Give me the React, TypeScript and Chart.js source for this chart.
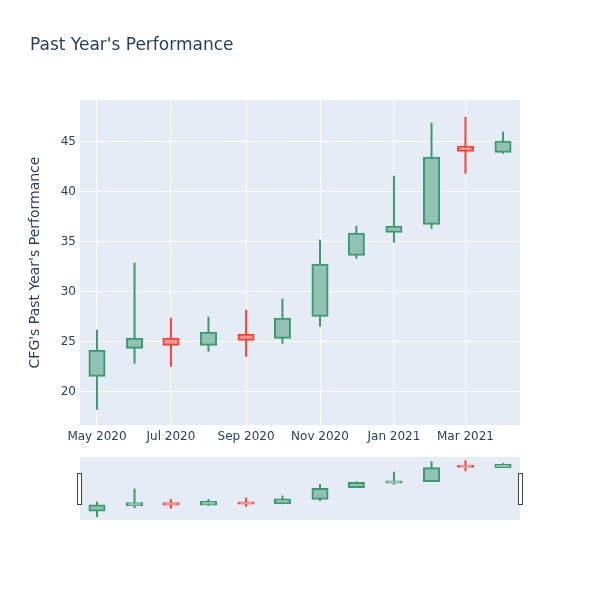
import React, { useEffect, useRef } from "react";
import { Chart, registerables } from "chart.js";
Chart.register(...registerables);

const dates = [
  "2020-05-01", "2020-06-01", "2020-07-01", "2020-08-01", "2020-09-01", "2020-10-01",
  "2020-11-01", "2020-12-01", "2021-01-01", "2021-02-01", "2021-03-01", "2021-04-01",
];
const opens = [21.6, 24.4, 25.3, 24.7, 25.7, 25.4, 27.6, 33.7, 36.0, 36.8, 44.5, 44.0];
const closes = [24.1, 25.3, 24.7, 25.9, 25.2, 27.3, 32.7, 35.8, 36.5, 43.4, 44.1, 45.0];
const highs = [26.2, 32.9, 27.4, 27.5, 28.2, 29.3, 35.2, 36.6, 41.6, 46.9, 47.5, 46.0];
const lows = [18.2, 22.8, 22.5, 24.0, 23.5, 24.8, 26.5, 33.3, 34.9, 36.3, 41.8, 43.8];

const tickDates = ["2020-05-01", "2020-07-01", "2020-09-01", "2020-11-01", "2021-01-01", "2021-03-01"];
const tickLabels = ["May 2020", "Jul 2020", "Sep 2020", "Nov 2020", "Jan 2021", "Mar 2021"];
const yTicks = [20, 25, 30, 35, 40, 45];
const yMin = 16.67;
const yMax = 49.17;
const xRangeStart = "2020-04-17";
const xRangeEnd = "2021-04-15";

const TEXT = "#2a3f5f";
const FONT = "'DejaVu Sans', 'Open Sans', sans-serif";
const INC = "#3D9970";
const DEC = "#FF4136";
const INC_FILL = "rgb(145,194,179)";
const DEC_FILL = "rgb(242,150,150)";

const day = (s: string) => Date.parse(s + "T00:00:00Z") / 86400000;

const bgPlugin = {
  id: "bg",
  beforeDraw(chart: any) {
    const { ctx, chartArea } = chart;
    ctx.save();
    ctx.fillStyle = "#E5ECF6";
    ctx.fillRect(chartArea.left, chartArea.top, chartArea.right - chartArea.left, chartArea.bottom - chartArea.top);
    ctx.restore();
  },
};

function buildDatasets(bodyW: number, wickW: number) {
  const inc = opens.map((o, i) => closes[i] >= o);
  return [
    {
      type: "bar" as const,
      data: dates.map((d, i) => ({ x: day(d), y: [opens[i], closes[i]] })),
      backgroundColor: inc.map((v) => (v ? INC_FILL : DEC_FILL)),
      borderColor: inc.map((v) => (v ? INC : DEC)),
      borderWidth: 2,
      borderSkipped: false,
      inflateAmount: 1,
      barThickness: bodyW,
      grouped: false,
      order: 0,
    },
    {
      type: "bar" as const,
      data: dates.map((d, i) => ({ x: day(d), y: [lows[i], highs[i]] })),
      backgroundColor: inc.map((v) => (v ? INC : DEC)),
      borderWidth: 0,
      inflateAmount: 0,
      barThickness: wickW,
      grouped: false,
      order: 1,
    },
  ];
}

export default function App() {
  const mainRef = useRef<HTMLCanvasElement>(null);
  const miniRef = useRef<HTMLCanvasElement>(null);

  useEffect(() => {
    const main = new Chart(mainRef.current!, {
      type: "bar",
      data: { datasets: buildDatasets(15, 2) as any },
      options: {
        animation: false,
        responsive: false,
        devicePixelRatio: 1,
        layout: { padding: { top: 100, right: 80, left: 0, bottom: 0 } },
        plugins: { legend: { display: false }, tooltip: { enabled: false }, title: { display: false } },
        scales: {
          x: {
            type: "linear",
            min: day(xRangeStart),
            max: day(xRangeEnd),
            offset: false,
            border: { display: false },
            grid: { color: "#ffffff", lineWidth: 1, drawTicks: false, offset: false },
            afterBuildTicks: (s: any) => {
              s.ticks = tickDates.map((d) => ({ value: day(d) }));
            },
            afterFit: (s: any) => {
              s.height = 175;
            },
            ticks: {
              color: TEXT,
              font: { family: FONT, size: 12 },
              padding: 5,
              maxRotation: 0,
              autoSkip: false,
              callback: (_v: any, i: number) => tickLabels[i],
            },
          },
          y: {
            type: "linear",
            min: yMin,
            max: yMax,
            border: { display: false },
            grid: { color: "#ffffff", lineWidth: 1, drawTicks: false },
            afterBuildTicks: (s: any) => {
              s.ticks = yTicks.map((v) => ({ value: v }));
            },
            afterFit: (s: any) => {
              s.width = 80;
            },
            ticks: {
              color: TEXT,
              font: { family: FONT, size: 12 },
              padding: 4,
              callback: (v: any) => String(v),
            },
            title: {
              display: true,
              text: "CFG's Past Year's Performance",
              color: TEXT,
              font: { family: FONT, size: 14, weight: "normal" },
              padding: { top: 27, bottom: 0 },
            },
          },
        },
      },
      plugins: [bgPlugin],
    });

    const mini = new Chart(miniRef.current!, {
      type: "bar",
      data: { datasets: buildDatasets(15, 2) as any },
      options: {
        animation: false,
        responsive: false,
        devicePixelRatio: 1,
        layout: { padding: 0 },
        plugins: { legend: { display: false }, tooltip: { enabled: false } },
        scales: {
          x: { type: "linear", display: false, min: day(xRangeStart), max: day(xRangeEnd), offset: false },
          y: { type: "linear", display: false, min: yMin, max: yMax },
        },
      },
      plugins: [bgPlugin],
    });

    return () => {
      main.destroy();
      mini.destroy();
    };
  }, []);

  const handle: React.CSSProperties = {
    position: "absolute",
    top: 473,
    width: 5,
    height: 32,
    boxSizing: "border-box",
    background: "#ffffff",
    border: "1px solid #444444",
  };

  return (
    <div style={{ position: "absolute", left: 0, top: 0, width: 600, height: 600, background: "#ffffff" }}>
      <canvas ref={mainRef} width={600} height={600} style={{ position: "absolute", left: 0, top: 0 }} />
      <div
        style={{
          position: "absolute",
          left: 30,
          top: 33,
          fontFamily: FONT,
          fontSize: 17,
          color: TEXT,
          lineHeight: "22px",
          whiteSpace: "nowrap",
        }}
      >
        Past Year's Performance
      </div>
      <canvas ref={miniRef} width={440} height={63} style={{ position: "absolute", left: 80, top: 457 }} />
      <div style={{ ...handle, left: 77 }} />
      <div style={{ ...handle, left: 518 }} />
    </div>
  );
}
